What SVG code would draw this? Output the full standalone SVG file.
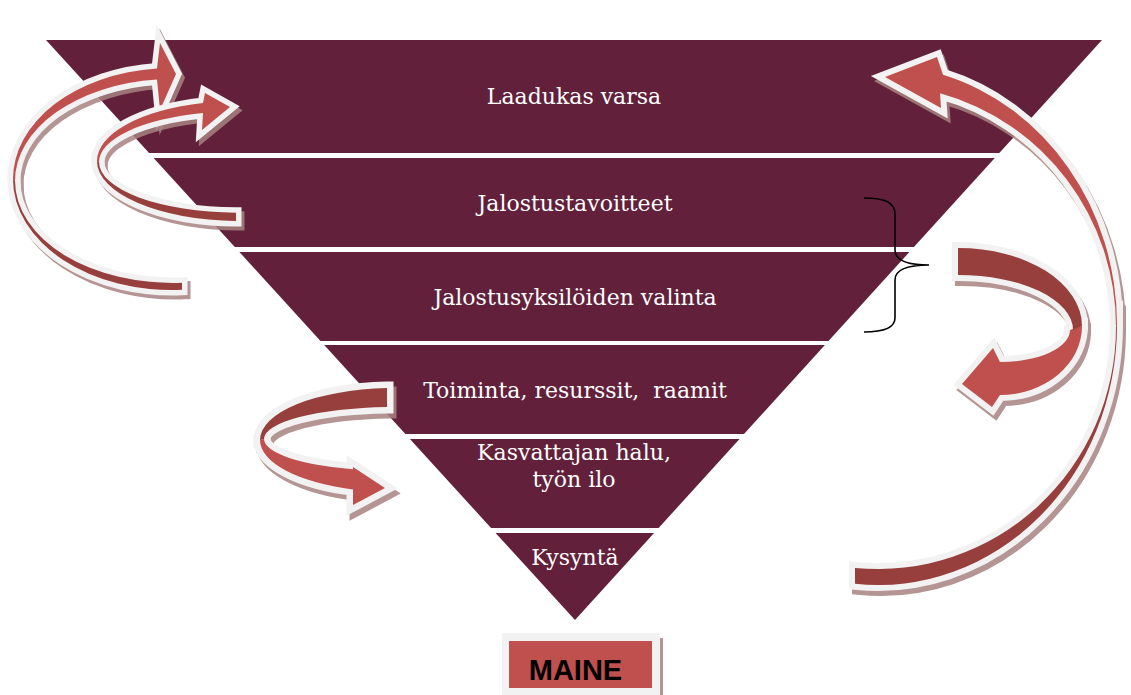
<svg xmlns="http://www.w3.org/2000/svg" xmlns:xlink="http://www.w3.org/1999/xlink" width="1131" height="695" viewBox="0 0 1131 695">
<style>
.band{fill:#63203A}
.lbl{font-family:"DejaVu Serif","Liberation Serif",serif;font-size:22px;fill:#FFFFFF;text-anchor:middle}
.sh{fill:#A88381;stroke:#A88381;opacity:0.85;stroke-linejoin:miter;stroke-miterlimit:10}
.wo{fill:#F2F2F2;stroke:#F2F2F2;stroke-linejoin:miter;stroke-miterlimit:10}
.lt{fill:#C0504D}
.dk{fill:#973F3D}
.brace{fill:none;stroke:#000000;stroke-width:1.6}
</style>
<defs>
<path id="aL" d="M13,179 A159,111 0 0 1 157,68.5 L160,43 L176,74 L160,110 L157,79.5 A158,102 0 0 0 15,181 Z"/>
<path id="aD" d="M13,179 A159,111 0 0 0 182,289.8 L182,282.8 A158,102 0 0 1 15,181 Z"/>
<path id="bL" d="M97,161 A143,60 0 0 1 203,103 L205,93 L230,107 L202,130 L203,113 A141,50.8 0 0 0 99,162 Z"/>
<path id="bD" d="M97,161 A143,60 0 0 0 236,221 L236,212.8 A141,50.8 0 0 1 99,162 Z"/>
<path id="cD" d="M260,440 A135,52 0 0 1 387,388.1 L387,407 A131,32 0 0 0 264,439 Z"/>
<path id="cL" d="M260,440 A135,52 0 0 0 353,489.4 L353,505 L385,488 L353,467 L353,469.3 A131,32 0 0 1 264,439 Z"/>
<path id="dD" d="M958,248 A124,78 0 0 1 1082,326 L1073,330 A115,55 0 0 0 958,275 Z"/>
<path id="dL" d="M1082,326 A82,69 0 0 1 1000,395 L992,407 L962,384 L993,348 L1000,362 A70,32 0 0 0 1070,330 Z"/>
<path id="eL" d="M1117,325 A239,260 0 0 0 943,74.8 L937,57 L885,77 L941,108 L940,93.3 A238,242 0 0 1 1116,327 Z"/>
<path id="eD" d="M1117,325 A239,260 0 0 1 855,583.8 L855,567.9 A238,242 0 0 0 1116,327 Z"/>
</defs>

<g id="level-1">
<polygon class="band" points="46,40 1102,40 999.3,153 149.1,153"/>
<text class="lbl" x="574" y="104">Laadukas varsa</text>
</g>
<g id="level-2">
<polygon class="band" points="153.6,158 994.8,158 913.9,247 234.8,247"/>
<text class="lbl" x="575" y="211">Jalostustavoitteet</text>
</g>
<g id="level-3">
<polygon class="band" points="239.4,252 909.4,252 828.5,341 320.5,341"/>
<text class="lbl" x="575" y="305">Jalostusyksilöiden valinta</text>
</g>
<g id="level-4">
<polygon class="band" points="324.2,345 824.9,345 744,434 405.4,434"/>
<text class="lbl" x="575" y="398" xml:space="preserve">Toiminta, resurssit,  raamit</text>
</g>
<g id="level-5">
<polygon class="band" points="409.9,439 739.5,439 658.6,528 491.1,528"/>
<text class="lbl" x="574" y="460">Kasvattajan halu,</text>
<text class="lbl" x="574" y="487">työn ilo</text>
</g>
<g id="level-6">
<polygon class="band" points="495.6,533 654.1,533 575,620"/>
<text class="lbl" x="575" y="565">Kysyntä</text>
</g>

<g id="brace">
<path class="brace" d="M864,198 C884,198 895,202 895,214 L895,250 C895,260 905,265 929,265 C905,265 895,270 895,280 L895,318 C895,328 884,332 864,332"/>
</g>

<g id="connectors">
<g id="arrow-a">
<g class="sh" stroke-width="11" transform="translate(3,4)"><use xlink:href="#aL"/><use xlink:href="#aD"/></g>
<g class="wo" stroke-width="11"><use xlink:href="#aL"/><use xlink:href="#aD"/></g>
<use xlink:href="#aL" class="lt"/>
<use xlink:href="#aD" class="dk"/>
</g>
<g id="arrow-b">
<g class="sh" stroke-width="11" transform="translate(3,4)"><use xlink:href="#bL"/><use xlink:href="#bD"/></g>
<g class="wo" stroke-width="11"><use xlink:href="#bL"/><use xlink:href="#bD"/></g>
<use xlink:href="#bL" class="lt"/>
<use xlink:href="#bD" class="dk"/>
</g>
<g id="arrow-c">
<g class="sh" stroke-width="13" transform="translate(3,5)"><use xlink:href="#cL"/><use xlink:href="#cD"/></g>
<g class="wo" stroke-width="13"><use xlink:href="#cL"/><use xlink:href="#cD"/></g>
<use xlink:href="#cL" class="lt"/>
<use xlink:href="#cD" class="dk"/>
</g>
<g id="arrow-d">
<g class="sh" stroke-width="12" transform="translate(3,5)"><use xlink:href="#dL"/><use xlink:href="#dD"/></g>
<g class="wo" stroke-width="12"><use xlink:href="#dL"/><use xlink:href="#dD"/></g>
<use xlink:href="#dL" class="lt"/>
<use xlink:href="#dD" class="dk"/>
</g>
<g id="arrow-e">
<g class="sh" stroke-width="12" transform="translate(3,5)"><use xlink:href="#eL"/><use xlink:href="#eD"/></g>
<g class="wo" stroke-width="12"><use xlink:href="#eL"/><use xlink:href="#eD"/></g>
<use xlink:href="#eL" class="lt"/>
<use xlink:href="#eD" class="dk"/>
</g>
</g>

<g id="maine">
<rect x="660" y="638" width="3" height="60" fill="#B59594"/>
<rect x="502" y="633" width="158" height="70" fill="#F2F2F2"/>
<rect x="509" y="641" width="143" height="47" fill="#C0504D"/>
<text x="575.5" y="680" font-family="'Liberation Sans',Arial,sans-serif" font-size="29" font-weight="bold" fill="#000000" text-anchor="middle">MAINE</text>
</g>
</svg>
